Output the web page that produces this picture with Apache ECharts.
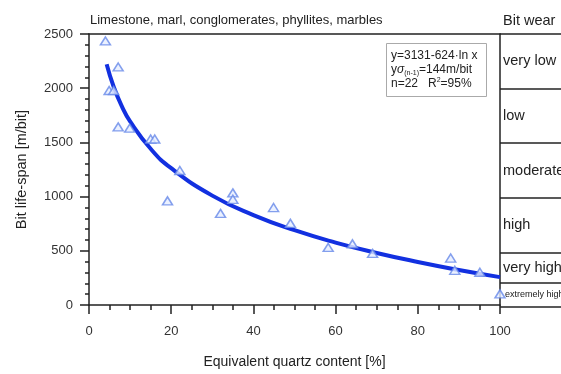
<!DOCTYPE html>
<html>
<head>
<meta charset="utf-8">
<script src="https://cdn.jsdelivr.net/npm/echarts@6/dist/echarts.min.js"></script>
<style>
  html, body { margin: 0; padding: 0; background: #fff; }
  #main { width: 561px; height: 374px; }
</style>
</head>
<body>
<div id="main"></div>
<script>
// measured points: equivalent quartz content [%] vs bit life-span [m/bit]
var quartz = [4, 7.1, 4.9, 6, 7.1, 9.9, 15, 16, 22.1, 19.1, 35, 35, 32, 44.9, 49, 58.2, 64.1, 69, 88, 89, 95.1, 100];
var lifeSpan = [2436, 2196, 1979, 1979, 1643, 1631, 1531, 1531, 1241, 961, 1034, 975, 845, 899, 753, 531, 564, 476, 433, 320, 302, 103];

// fitted curve
var fitX = [4.3, 6, 8, 10, 15, 20, 30, 40, 50, 60, 70, 80, 90, 100];
var fitY = [2221, 2013, 1833, 1694, 1441, 1262, 1009, 829, 690, 576, 480, 397, 323, 257];

// bit wear classes on the right
var wearClasses = ['very low', 'low', 'moderate', 'high', 'very high', 'extremely high'];
var wearBounds = [2500, 2000, 1500, 1000, 500, 220, 0];

var ink = '#222';
var font = 'Liberation Sans, Arial, sans-serif';

var points = quartz.map(function (x, i) { return [x, lifeSpan[i]]; });
var fit = fitX.map(function (x, i) { return [x, fitY[i]]; });

var bandAreas = wearClasses.map(function (name, i) {
    var small = i === wearClasses.length - 1;
    return [
        { yAxis: wearBounds[i], name: name,
          label: { fontSize: small ? 9 : 14.5, distance: small ? 5 : 3 } },
        { yAxis: wearBounds[i + 1] }
    ];
});
var bandLines = wearBounds.map(function (b) { return { yAxis: b }; });

var myChart = echarts.init(document.getElementById('main'));

var eqText = function (size) {
    return { fontSize: size, color: ink, fontFamily: font, fontWeight: 'normal' };
};

var option = {
    animation: false,
    textStyle: { fontFamily: font },
    title: [
        {
            text: 'Limestone, marl, conglomerates, phyllites, marbles',
            left: 85, top: 9,
            textStyle: { fontSize: 13, fontWeight: 'normal', color: ink, fontFamily: font }
        },
        {
            text: 'Bit wear',
            left: 498, top: 8,
            textStyle: { fontSize: 14.5, fontWeight: 'normal', color: ink, fontFamily: font }
        },
        {
            text: '{a|y=3131-624·ln x}\n{a|y}{s|σ}{sub|(n-1)}{a|=144m/bit}\n{a|n=22   R}{sup|2}{a|=95%}',
            left: 386, top: 42,
            padding: [7, 9, 7, 5],
            borderColor: '#aaa',
            borderWidth: 1,
            textStyle: {
                fontWeight: 'normal',
                rich: {
                    a: Object.assign(eqText(12), { lineHeight: 14 }),
                    s: Object.assign(eqText(12), { fontStyle: 'italic' }),
                    sub: Object.assign(eqText(7), { verticalAlign: 'bottom', padding: [4, 0, 0, 0] }),
                    sup: Object.assign(eqText(7), { verticalAlign: 'top', padding: [0, 0, 4, 0] })
                }
            }
        }
    ],
    grid: [
        { left: 89, right: 61, top: 34, bottom: 67 },
        { left: 500, right: 0, top: 34, bottom: 67 }
    ],
    xAxis: [
        {
            type: 'value', gridIndex: 0, min: 0, max: 100, interval: 20,
            name: 'Equivalent quartz content [%]',
            nameLocation: 'middle', nameGap: 50,
            nameTextStyle: { fontSize: 14, color: ink },
            axisLine: { lineStyle: { color: ink, width: 1.5 } },
            axisTick: { length: 9, lineStyle: { color: ink, width: 1.5 } },
            minorTick: { show: true, splitNumber: 4, length: 5, lineStyle: { color: ink, width: 1.5 } },
            axisLabel: { fontSize: 13, color: '#333', margin: 20 },
            splitLine: { show: false }
        },
        {
            type: 'value', gridIndex: 0, position: 'top', min: 0, max: 100,
            axisLine: { show: true, onZero: false, lineStyle: { color: ink, width: 1.5 } },
            axisTick: { show: false }, axisLabel: { show: false }, splitLine: { show: false }
        },
        {
            type: 'value', gridIndex: 1, min: 0, max: 1, show: false
        }
    ],
    yAxis: [
        {
            type: 'value', gridIndex: 0, min: 0, max: 2500, interval: 500,
            name: 'Bit life-span [m/bit]',
            nameLocation: 'middle', nameGap: 60,
            nameTextStyle: { fontSize: 14.5, color: ink },
            axisLine: { show: true, lineStyle: { color: ink, width: 1.5 } },
            axisTick: { show: true, length: 9, lineStyle: { color: ink, width: 1.5 } },
            minorTick: { show: true, splitNumber: 5, length: 4, lineStyle: { color: ink, width: 1.5 } },
            axisLabel: { fontSize: 13, color: '#333', margin: 16, formatter: function (v) { return String(v); } },
            splitLine: { show: false }
        },
        {
            type: 'value', gridIndex: 0, position: 'right', min: 0, max: 2500,
            axisLine: { show: true, onZero: false, lineStyle: { color: ink, width: 1.5 } },
            axisTick: { show: false }, axisLabel: { show: false }, splitLine: { show: false }
        },
        {
            type: 'value', gridIndex: 1, min: 0, max: 2500, show: false
        }
    ],
    series: [
        {
            name: 'fit',
            type: 'line',
            xAxisIndex: 0, yAxisIndex: 0,
            data: fit,
            smooth: true,
            showSymbol: false,
            lineStyle: { color: '#1230e0', width: 4 },
            z: 2
        },
        {
            name: 'measured',
            type: 'scatter',
            xAxisIndex: 0, yAxisIndex: 0,
            data: points,
            symbol: 'triangle',
            symbolSize: [10, 8],
            itemStyle: { color: '#e6edff', borderColor: '#6688e8', borderWidth: 1.5 },
            z: 3
        },
        {
            name: 'bit wear',
            type: 'line',
            xAxisIndex: 2, yAxisIndex: 2,
            data: [],
            markLine: {
                silent: true,
                symbol: 'none',
                label: { show: false },
                lineStyle: { color: ink, type: 'solid', width: 1.5 },
                data: bandLines
            },
            markArea: {
                silent: true,
                itemStyle: { color: 'rgba(0,0,0,0)' },
                label: {
                    show: true, position: 'insideLeft',
                    color: ink, fontSize: 14.5, fontFamily: font
                },
                data: bandAreas
            }
        }
    ]
};

myChart.setOption(option);
</script>
</body>
</html>
